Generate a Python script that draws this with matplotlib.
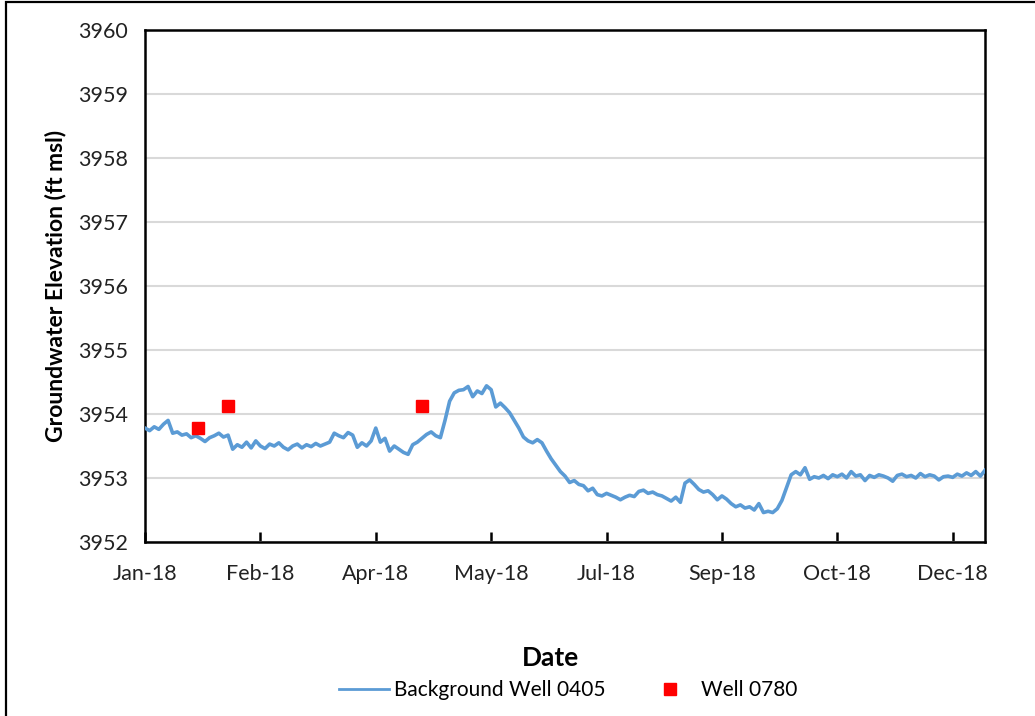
import datetime as dt
import matplotlib
matplotlib.use("Agg")
import matplotlib.pyplot as plt
import matplotlib.dates as mdates
from matplotlib.patches import Rectangle
from matplotlib.lines import Line2D

plt.rcParams['font.family'] = ['Lato', 'DejaVu Sans']

# Background Well 0405: water level every 2 days starting 1 Jan 2018 (ft msl)
bg_start = dt.date(2018, 1, 1)
bg_step_days = 2
bg_levels = [
    3953.78, 3953.74, 3953.80, 3953.76, 3953.84, 3953.90, 3953.70, 3953.72, 3953.67, 3953.69,
    3953.63, 3953.66, 3953.62, 3953.57, 3953.63, 3953.66, 3953.70, 3953.64, 3953.67, 3953.45,
    3953.52, 3953.48, 3953.56, 3953.47, 3953.58, 3953.50, 3953.46, 3953.53, 3953.50, 3953.55,
    3953.48, 3953.44, 3953.50, 3953.53, 3953.47, 3953.52, 3953.49, 3953.54, 3953.50, 3953.53,
    3953.56, 3953.70, 3953.66, 3953.63, 3953.71, 3953.67, 3953.48, 3953.55, 3953.50, 3953.58,
    3953.78, 3953.56, 3953.62, 3953.42, 3953.50, 3953.45, 3953.40, 3953.37, 3953.52, 3953.56,
    3953.62, 3953.68, 3953.72, 3953.66, 3953.63, 3953.90, 3954.20, 3954.33, 3954.37, 3954.38,
    3954.43, 3954.27, 3954.36, 3954.32, 3954.44, 3954.38, 3954.11, 3954.17, 3954.10, 3954.02,
    3953.90, 3953.78, 3953.64, 3953.58, 3953.55, 3953.60, 3953.55, 3953.42, 3953.30, 3953.20,
    3953.10, 3953.03, 3952.93, 3952.96, 3952.90, 3952.88, 3952.80, 3952.84, 3952.74, 3952.72,
    3952.76, 3952.73, 3952.70, 3952.66, 3952.70, 3952.73, 3952.71, 3952.79, 3952.81, 3952.76,
    3952.78, 3952.74, 3952.72, 3952.68, 3952.64, 3952.70, 3952.62, 3952.92, 3952.97, 3952.90,
    3952.82, 3952.78, 3952.80, 3952.74, 3952.66, 3952.72, 3952.67, 3952.60, 3952.55, 3952.58,
    3952.53, 3952.55, 3952.50, 3952.60, 3952.46, 3952.48, 3952.46, 3952.52, 3952.65, 3952.85,
    3953.05, 3953.10, 3953.05, 3953.16, 3952.98, 3953.02, 3953.00, 3953.04, 3952.99, 3953.05,
    3953.02, 3953.06, 3953.00, 3953.10, 3953.03, 3953.05, 3952.96, 3953.04, 3953.01, 3953.05,
    3953.03, 3953.00, 3952.95, 3953.04, 3953.06, 3953.02, 3953.04, 3953.00, 3953.07, 3953.02,
    3953.05, 3953.03, 3952.97, 3953.02, 3953.03, 3953.01, 3953.06, 3953.03, 3953.08, 3953.04,
    3953.10, 3953.03, 3953.12,
]

# Well 0780 manual measurements
well_dates = [dt.date(2018, 1, 24), dt.date(2018, 2, 6), dt.date(2018, 5, 1)]
well_levels = [3953.78, 3954.13, 3954.13]

x_tick_labels = ["Jan-18", "Feb-18", "Apr-18", "May-18", "Jul-18", "Sep-18", "Oct-18", "Dec-18"]
y_ticks = [3952, 3953, 3954, 3955, 3956, 3957, 3958, 3959, 3960]

bg_dates = [bg_start + dt.timedelta(days=bg_step_days * i) for i in range(len(bg_levels))]

W, H = 1035, 716
fig = plt.figure(figsize=(W / 100, H / 100), dpi=100)
fig.patch.set_facecolor("white")

# outer chart border
fig.patches.append(Rectangle((6 / W, -0.1), 1.2, 1 - 2 / H + 0.1, transform=fig.transFigure,
                             fill=False, edgecolor="black", linewidth=1.6))

ax = fig.add_axes([145 / W, 1 - 542 / H, 840 / W, 512 / H])

line_color = "#5b9bd5"
ax.plot(bg_dates, bg_levels, color=line_color, linewidth=2.6, zorder=3)
ax.plot(well_dates, well_levels, linestyle="none", marker="s", markersize=8.5,
        color="#ff0000", zorder=4)

ax.set_ylim(3952, 3960)
ax.set_yticks(y_ticks)
ax.set_yticklabels([str(v) for v in y_ticks])
ax.yaxis.grid(True, color="#d9d9d9", linewidth=1.5)
ax.set_axisbelow(True)

x0 = dt.date(2018, 1, 1)
ax.set_xlim(mdates.date2num(x0), mdates.date2num(dt.date(2018, 12, 31)))
tick_dates = [x0 + dt.timedelta(days=50 * i) for i in range(len(x_tick_labels))]
ax.set_xticks([mdates.date2num(d) for d in tick_dates])
ax.set_xticklabels(x_tick_labels)

for s in ax.spines.values():
    s.set_linewidth(1.8)
    s.set_color("black")

ax.tick_params(axis="x", direction="in", length=7, width=1.8, pad=16, labelsize=15.5, colors="black",
               labelcolor="#222222")
ax.tick_params(axis="y", length=0, pad=12, labelsize=15.5, labelcolor="#222222")

ax.set_ylabel("Groundwater Elevation (ft msl)", fontsize=16.5, fontweight="bold")
ax.yaxis.set_label_coords(-0.094, 0.5)
fig.text(551 / W, 1 - 658 / H, "Date", ha="center", va="center", fontsize=19, fontweight="bold")

handles = [Line2D([], [], color=line_color, linewidth=2),
           Line2D([], [], color="#ff0000", marker="s", linestyle="none", markersize=8.5)]
fig.legend(handles, ["Background Well 0405", "Well 0780"], loc="center",
           bbox_to_anchor=(568 / W, 1 - 690 / H), ncol=2, frameon=False, fontsize=15,
           handlelength=2.4, columnspacing=1.9, handletextpad=0.25)

fig.savefig("out.png", dpi=100)
